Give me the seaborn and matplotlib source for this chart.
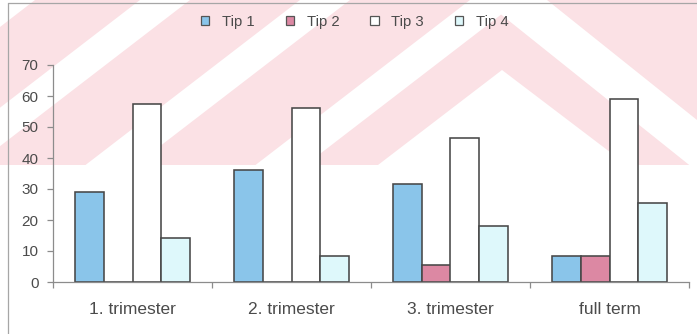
import numpy as np
import pandas as pd
import matplotlib
matplotlib.use("Agg")
import matplotlib.pyplot as plt
from matplotlib.patches import Patch
import seaborn as sns

# --- data ---------------------------------------------------------------
stages = ["1. trimester", "2. trimester", "3. trimester", "full term"]
tip_names = ["Tip 1", "Tip 2", "Tip 3", "Tip 4"]
tip1 = [29.0, 36.0, 31.5, 8.3]
tip2 = [0.0, 0.0, 5.4, 8.3]
tip3 = [57.3, 56.0, 46.5, 59.0]
tip4 = [14.2, 8.3, 18.1, 25.4]
y_ticks = [0, 10, 20, 30, 40, 50, 60, 70]

series = [tip1, tip2, tip3, tip4]
df = pd.DataFrame({
    "stage": [s for vals in series for s in stages],
    "tip": [t for t, vals in zip(tip_names, series) for _ in vals],
    "value": [v for vals in series for v in vals],
})

# --- style --------------------------------------------------------------
sns.set_theme(style="white")
plt.rcParams["font.family"] = ["Liberation Sans", "DejaVu Sans"]

fill_colors = ["#8ac5ea", "#dc88a3", "#ffffff", "#def8fb"]
edge_col = "#474747"
text_col = "#4b4b4b"
axis_col = "#8c8c8c"

W, H = 697, 334
fig = plt.figure(figsize=(W / 100, H / 100), dpi=100)
fig.patch.set_facecolor("white")

# background layer in pixel coordinates (pink diagonal watermark + frame)
bg = fig.add_axes([0, 0, 1, 1], zorder=-5)
bg.set_xlim(0, W)
bg.set_ylim(H, 0)
bg.axis("off")
pink = "#fbe1e5"
band_h = 165
bg.fill([0, W, W, 0], [0, 0, band_h, band_h], color=pink, lw=0)

# rising white stripes
slope = 1.3
for x0, x1 in [(140, 190), (300, 350), (470, 520)]:
    bg.fill([x0, x1, x1 - slope * band_h, x0 - slope * band_h],
            [0, 0, band_h, band_h], color="white", lw=0)
bg.fill([0, 35, 0], [0, 0, 27], color="white", lw=0)
# white peak under the chevron
bg.fill([378, 502, 627], [band_h, 70, band_h], color="white", lw=0)
# descending stripe on the right
s2 = 1.25
bg.fill([483, 547, 547 + s2 * band_h, 483 + s2 * band_h],
        [0, 0, band_h, band_h], color="white", lw=0)
# chart-area frame
bg.plot([8, 8], [3, H], color="#a6a6a6", lw=0.9)
bg.plot([8, W], [3, 3], color="#a6a6a6", lw=0.9)

# --- main chart ---------------------------------------------------------
ax = fig.add_axes([53 / W, (H - 282) / H, 636 / W, 217 / H])
ax.set_facecolor("none")

sns.barplot(data=df, x="stage", y="value", hue="tip", order=stages,
            hue_order=tip_names, palette=fill_colors, saturation=1,
            width=0.72, edgecolor=edge_col, linewidth=1.15,
            errorbar=None, legend=False, ax=ax)

ax.set_xlim(-0.5, len(stages) - 0.5)
ax.set_ylim(0, 70)
ax.set_yticks(y_ticks)
ax.set_xlabel("")
ax.set_ylabel("")

for side in ["top", "right"]:
    ax.spines[side].set_visible(False)
for side in ["left", "bottom"]:
    ax.spines[side].set_color(axis_col)
    ax.spines[side].set_linewidth(0.9)

ax.tick_params(axis="y", which="major", length=4, width=0.9, color=axis_col,
               direction="out", pad=6.5, labelsize=11, labelcolor=text_col, left=True)
ax.tick_params(axis="x", which="major", length=0, pad=14.5,
               labelsize=12.5, labelcolor=text_col)
ax.set_xticks(np.arange(-0.5, len(stages), 1.0), minor=True)
ax.tick_params(axis="x", which="minor", length=4, width=0.9, color=axis_col,
               direction="out", bottom=True)

# legend across the top
handles = [Patch(facecolor=c, edgecolor="#555555", linewidth=0.9) for c in fill_colors]
fig.legend(handles, tip_names, loc="center", bbox_to_anchor=(0.509, 0.934),
           ncol=4, frameon=False, fontsize=10.7, labelcolor=text_col,
           handlelength=0.55, handleheight=0.55, handletextpad=0.85,
           columnspacing=2.1)

fig.savefig("out.png", dpi=100)
